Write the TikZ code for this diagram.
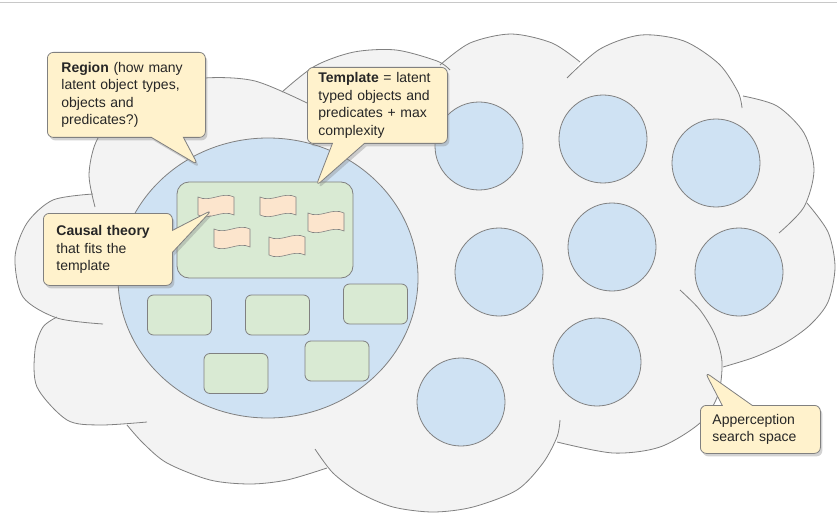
\documentclass[tikz,border=0pt]{standalone}
\usepackage{fontspec}
\setmainfont{Liberation Sans}
\usetikzlibrary{shapes.geometric, shapes.callouts, shadows}
\definecolor{cloudgray}{RGB}{243,243,243}
\definecolor{edgegray}{RGB}{128,128,128}
\definecolor{ballblue}{RGB}{207,226,243}
\definecolor{boxgreen}{RGB}{217,234,211}
\definecolor{paperpeach}{RGB}{252,229,205}
\definecolor{noteyellow}{RGB}{255,242,204}
\definecolor{rulegray}{RGB}{200,200,200}
\tikzset{
    cloudedge/.style={draw=edgegray, line width=0.8pt},
    regionball/.style={ellipse, draw=edgegray, fill=ballblue, line width=0.8pt, minimum width=300pt, minimum height=280pt},
    ball/.style={circle, draw=edgegray, fill=ballblue, line width=0.8pt, minimum size=88pt, inner sep=0pt},
    greenbox/.style={rectangle, rounded corners=6pt, draw=edgegray, fill=boxgreen, line width=0.8pt, minimum width=64pt, minimum height=40pt},
    paper/.style={draw=edgegray, fill=paperpeach, line width=0.6pt},
    note/.style={rectangle callout, rounded corners=6pt, draw=edgegray, fill=noteyellow, line width=0.8pt,
        callout pointer width=32pt, drop shadow={shadow xshift=2pt, shadow yshift=-3pt, opacity=0.35},
        font=\fontsize{14}{17.5}\selectfont, text=black!85, align=left, inner ysep=3pt, anchor=north west}
}

\begin{document}
\begin{tikzpicture}[x=1pt, y=-1pt]
    \useasboundingbox (0,0) rectangle (837,513);
    \fill[white] (0,0) rectangle (837,513);
    \draw[rulegray, line width=1pt] (0,3) -- (837,3);

    \fill[cloudgray]
        plot[smooth] coordinates {(95,207) (89,175) (96,142) (118,112) (155,88) (205,78) (255,81) (307,103)}
        -- plot[smooth] coordinates {(282,92) (315,66) (354,52) (396,50) (437,61) (450,70)}
        -- plot[smooth] coordinates {(440,65) (470,43) (511,34) (552,43) (580,62)}
        -- plot[smooth] coordinates {(567,78) (600,49) (641,35) (684,41) (719,64) (738,92) (742,108)}
        -- plot[smooth] coordinates {(743,96) (777,106) (804,133) (814,170) (804,207) (779,233)}
        -- plot[smooth] coordinates {(807,203) (828,232) (835,267) (828,302) (810,325) (785,343) (755,357) (723,367)}
        -- plot[smooth] coordinates {(680,290) (700,310) (715,335) (722,362) (718,395) (700,423) (660,447) (613,453) (557,442)}
        -- plot[smooth] coordinates {(560,420) (557,437) (543,463) (517,490) (473,507) (433,512) (393,507) (360,493) (333,473) (315,449)}
        -- plot[smooth] coordinates {(327,468) (287,480) (250,484) (210,480) (167,463) (143,443) (127,425)}
        -- plot[smooth] coordinates {(147,422) (100,425) (67,420) (37,387) (35,350) (43,327) (57,317)}
        -- plot[smooth] coordinates {(103,324) (57,318) (23,297) (15,257) (27,223) (53,200) (93,194)}
        -- cycle;
    \draw[cloudedge] plot[smooth] coordinates {(95,207) (89,175) (96,142) (118,112) (155,88) (205,78) (255,81) (307,103)};
    \draw[cloudedge] plot[smooth] coordinates {(282,92) (315,66) (354,52) (396,50) (437,61) (450,70)};
    \draw[cloudedge] plot[smooth] coordinates {(440,65) (470,43) (511,34) (552,43) (580,62)};
    \draw[cloudedge] plot[smooth] coordinates {(567,78) (600,49) (641,35) (684,41) (719,64) (738,92) (742,108)};
    \draw[cloudedge] plot[smooth] coordinates {(743,96) (777,106) (804,133) (814,170) (804,207) (779,233)};
    \draw[cloudedge] plot[smooth] coordinates {(807,203) (828,232) (835,267) (828,302) (810,325) (785,343) (755,357) (723,367)};
    \draw[cloudedge] plot[smooth] coordinates {(680,290) (700,310) (715,335) (722,362) (718,395) (700,423) (660,447) (613,453) (557,442)};
    \draw[cloudedge] plot[smooth] coordinates {(560,420) (557,437) (543,463) (517,490) (473,507) (433,512) (393,507) (360,493) (333,473) (315,449)};
    \draw[cloudedge] plot[smooth] coordinates {(327,468) (287,480) (250,484) (210,480) (167,463) (143,443) (127,425)};
    \draw[cloudedge] plot[smooth] coordinates {(147,422) (100,425) (67,420) (37,387) (35,350) (43,327) (57,317)};
    \draw[cloudedge] plot[smooth] coordinates {(103,324) (57,318) (23,297) (15,257) (27,223) (53,200) (93,194)};

    \node[regionball] (region) at (268,278) {};
    \node[greenbox, rounded corners=12pt, minimum width=176pt, minimum height=96pt] (template) at (265,230) {};
    \foreach \x/\y in {216/206, 278/206, 326/222, 232/238, 287/246}
        \draw[paper] (\x-18,\y-9) .. controls (\x-6,\y-3) and (\x+6,\y-15) .. (\x+18,\y-9)
            -- (\x+18,\y+9) .. controls (\x+6,\y+3) and (\x-6,\y+15) .. (\x-18,\y+9) -- cycle;
    \node[greenbox] (box1) at (179.5,315) {};
    \node[greenbox] (box2) at (277.5,315) {};
    \node[greenbox] (box3) at (375.5,304) {};
    \node[greenbox] (box4) at (236,373.5) {};
    \node[greenbox] (box5) at (337,361) {};

    \foreach \n/\x/\y in {1/479/146, 2/603/139, 3/716/163, 4/739/272, 5/597/362, 6/461/402, 7/499/272, 8/612/247}
        \node[ball] (space\n) at (\x,\y) {};

    \coordinate (regiontip) at (198,165);
    \coordinate (templatetip) at (316,186);
    \coordinate (theorytip) at (212,210);
    \coordinate (searchtip) at (705,372);

    \node[note, text width=130pt, inner xsep=14pt, minimum height=85pt, callout absolute pointer={(regiontip)}] (regionnote) at (47,52)
        {\textbf{Region} (how many\\latent object types,\\objects and\\predicates?)};
    \node[note, text width=118pt, inner xsep=11pt, minimum height=76pt, callout absolute pointer={(templatetip)}] (templatenote) at (307,67)
        {\textbf{Template} = latent\\typed objects and\\predicates + max\\complexity};
    \node[note, text width=103pt, inner xsep=13pt, minimum height=72pt, callout pointer width=22pt, callout absolute pointer={(theorytip)}] (theorynote) at (43,213)
        {\textbf{Causal theory}\\that fits the\\template};
    \node[note, text width=96pt, inner xsep=12pt, minimum height=48pt, callout pointer width=30pt, callout absolute pointer={(searchtip)}] (searchnote) at (700,405)
        {Apperception\\search space};
\end{tikzpicture}
\end{document}
